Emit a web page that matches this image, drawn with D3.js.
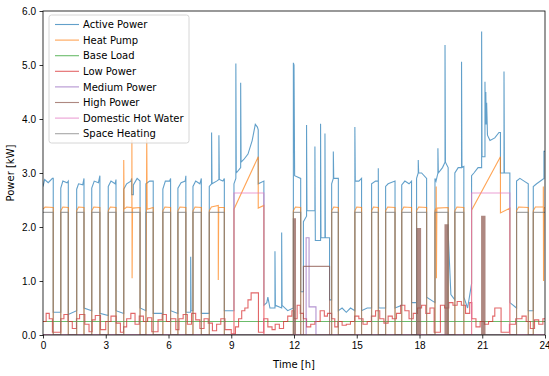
<!DOCTYPE html>
<html>
<head>
<meta charset="utf-8">
<script src="https://cdn.jsdelivr.net/npm/d3@7"></script>
<style>
  body { margin: 0; background: #fff; }
  svg { font-family: 'DejaVu Sans', sans-serif; }
</style>
</head>
<body>
<div id="graph"></div>
<script>
// hour ticks / power ticks
const xTicks = [0, 3, 6, 9, 12, 15, 18, 21, 24]
const yTicks = [0, 1, 2, 3, 4, 5, 6]

// [hour, kW] points, drawn with straight segments (repeated hour = vertical jump)
const activePower = [
  [0, 2.75], [0.08, 2.88], [0.25, 2.82], [0.45, 2.9], [0.49, 2.9], [0.49, 0.42],
  [0.85, 0.42], [0.85, 2.72], [0.95, 2.85], [1.15, 2.82], [1.21, 2.85], [1.21, 0.38],
  [1.61, 0.45], [1.61, 2.7], [1.7, 2.8], [1.9, 2.78], [1.96, 2.9], [1.96, 0.5],
  [2.33, 0.45], [2.33, 2.72], [2.45, 2.85], [2.65, 2.82], [2.72, 2.95], [2.72, 0.4],
  [3.12, 0.36], [3.12, 2.75], [3.25, 2.85], [3.45, 2.8], [3.49, 2.88], [3.49, 0.45],
  [3.86, 0.4], [3.86, 2.7], [4.0, 2.8], [4.2, 2.85], [4.24, 2.9], [4.24, 2.6], [4.32, 2.6], [4.32, 2.78], [4.5, 2.9], [4.64, 2.85], [4.64, 0.5],
  [4.92, 0.45], [4.92, 2.8], [5.1, 2.85], [5.27, 2.85], [5.27, 0.4],
  [5.73, 0.4], [5.73, 2.7], [5.85, 2.85], [6.05, 2.85], [6.1, 2.9], [6.1, 0.45],
  [6.45, 0.4], [6.45, 2.72], [6.6, 2.82], [6.8, 2.85], [6.83, 2.95], [6.83, 0.42],
  [7.06, 0.42], [7.06, 1.45], [7.08, 0.45],
  [7.17, 0.45], [7.17, 2.75], [7.3, 2.85], [7.5, 2.8], [7.57, 2.9], [7.57, 0.4],
  [7.95, 0.4], [7.95, 2.75], [8.06, 2.8], [8.06, 3.75], [8.08, 2.8], [8.3, 2.85], [8.41, 2.88], [8.41, 3.7], [8.43, 2.88], [8.6, 2.85], [8.67, 2.9], [8.67, 0.45],
  [9.13, 0.45], [9.13, 2.8], [9.22, 2.9], [9.22, 5.03], [9.24, 3.0], [9.45, 3.1], [9.45, 4.67], [9.47, 3.2], [9.6, 3.25], [9.8, 3.35], [10.0, 3.6], [10.15, 3.9], [10.25, 3.85], [10.29, 3.8], [10.29, 2.8], [10.56, 2.85], [10.56, 0.55],
  [10.7, 0.6], [10.75, 0.7], [10.85, 0.5], [11.09, 0.5], [11.09, 1.55], [11.11, 0.55], [11.41, 0.5], [11.41, 1.9], [11.43, 0.55], [11.7, 0.45], [11.97, 0.5],
  [11.97, 5.04], [12.0, 5.0], [12.03, 2.95], [12.32, 2.9], [12.32, 0.8], [12.45, 0.8], [12.45, 2.1], [12.6, 2.2], [12.6, 3.89], [12.62, 2.3], [13.0, 2.3], [13.0, 3.49], [13.02, 1.75], [13.27, 1.75], [13.27, 3.91], [13.29, 1.8], [13.48, 1.8], [13.48, 3.73], [13.5, 1.8], [13.7, 1.8], [13.7, 0.65],
  [13.8, 0.65], [13.8, 2.8], [13.88, 2.9], [13.88, 3.4], [13.9, 2.9], [14.12, 2.9], [14.12, 0.45],
  [14.3, 0.5], [14.5, 0.42], [14.7, 0.5], [14.91, 0.45],
  [14.91, 3.85], [14.93, 2.85], [15.1, 2.85], [15.23, 2.9], [15.23, 0.45],
  [15.5, 0.5], [15.71, 0.5], [15.71, 2.8], [15.9, 2.85], [16.03, 2.85], [16.03, 3.09], [16.05, 0.5],
  [16.38, 0.5], [16.38, 2.75], [16.5, 2.8], [16.83, 2.85], [16.83, 0.5],
  [17.15, 0.55], [17.15, 2.78], [17.3, 2.85], [17.5, 2.8], [17.62, 2.85], [17.62, 0.6],
  [17.86, 0.6], [17.86, 2.9], [17.94, 3.0], [17.94, 3.24], [17.96, 3.0], [18.1, 3.0], [18.34, 2.9], [18.34, 0.7],
  [18.74, 0.6], [18.74, 2.9], [18.79, 2.85], [18.88, 3.0], [18.88, 3.46], [18.9, 3.0], [19.1, 3.1], [19.22, 3.2], [19.22, 5.37], [19.24, 3.2], [19.37, 3.1], [19.37, 1.9], [19.5, 0.75], [19.69, 0.65],
  [19.69, 3.0], [19.85, 3.1], [20.01, 3.1], [20.01, 5.06], [20.03, 3.1], [20.12, 3.12], [20.12, 0.7],
  [20.3, 0.5], [20.49, 0.95],
  [20.49, 2.95], [20.6, 3.0], [20.8, 3.1], [20.97, 3.1], [20.97, 5.62], [20.99, 3.3], [21.13, 3.3], [21.13, 4.69], [21.15, 3.9], [21.17, 4.5], [21.19, 3.9], [21.21, 4.3], [21.25, 3.7], [21.37, 3.6], [21.6, 3.65], [21.8, 3.75], [21.87, 3.75], [21.87, 3.0], [22.04, 3.0], [22.04, 4.88], [22.06, 3.0], [22.32, 3.0], [22.32, 0.6],
  [22.64, 0.5], [22.64, 2.85], [22.8, 2.9], [23.0, 2.85], [23.2, 2.8], [23.2, 0.45],
  [23.44, 0.45], [23.44, 2.75], [23.6, 2.8], [23.95, 2.9], [23.95, 3.4], [24, 3.4]
]

const heatPump = [
  [0, 2.33], [0.1, 2.37], [0.49, 2.36], [0.49, 0],
  [0.85, 0], [0.85, 2.3], [0.95, 2.37], [1.21, 2.36], [1.21, 0],
  [1.61, 0], [1.61, 2.3], [1.7, 2.37], [1.96, 2.36], [1.96, 0],
  [2.33, 0], [2.33, 2.3], [2.43, 2.37], [2.72, 2.36], [2.72, 0],
  [3.12, 0], [3.12, 2.3], [3.22, 2.37], [3.49, 2.36], [3.49, 0],
  [3.86, 0], [3.86, 3.24], [3.88, 2.33], [4.0, 2.37], [4.25, 2.36], [4.25, 3.61], [4.26, 1.05], [4.28, 2.35], [4.64, 2.36], [4.64, 0],
  [4.92, 0], [4.96, 3.65], [4.98, 2.33], [5.27, 2.36], [5.27, 0],
  [5.73, 0], [5.73, 2.3], [5.83, 2.37], [6.1, 2.36], [6.1, 0],
  [6.45, 0], [6.45, 2.3], [6.55, 2.37], [6.83, 2.36], [6.83, 0],
  [7.17, 0], [7.17, 2.3], [7.27, 2.37], [7.57, 2.36], [7.57, 0],
  [7.95, 0], [7.95, 2.3], [8.05, 2.37], [8.38, 2.4], [8.38, 1.02], [8.4, 2.36], [8.67, 2.36], [8.67, 0],
  [9.13, 0], [9.13, 2.33], [10.29, 3.3], [10.29, 2.35], [10.56, 2.4], [10.56, 0],
  [11.97, 0], [11.97, 2.3], [12.07, 2.37], [12.32, 2.36], [12.32, 0],
  [13.8, 0], [13.8, 2.3], [13.9, 2.37], [14.12, 2.36], [14.12, 0],
  [14.91, 0], [14.91, 2.3], [15.0, 2.37], [15.23, 2.36], [15.23, 0],
  [15.71, 0], [15.71, 2.3], [15.8, 2.37], [16.03, 2.36], [16.03, 0],
  [16.38, 0], [16.38, 2.3], [16.48, 2.37], [16.83, 2.36], [16.83, 0],
  [17.15, 0], [17.15, 2.3], [17.25, 2.37], [17.62, 2.36], [17.62, 0],
  [17.86, 0], [17.86, 2.3], [17.96, 2.37], [18.34, 2.36], [18.34, 0],
  [18.74, 0], [18.74, 2.3], [18.8, 2.36], [18.8, 2.75], [18.81, 1.05], [18.83, 2.35], [19.37, 2.36], [19.37, 0],
  [19.69, 0], [19.69, 2.3], [19.79, 2.37], [20.12, 2.36], [20.12, 0],
  [20.49, 0], [20.49, 2.31], [21.87, 3.3], [21.87, 2.26], [22.32, 2.35], [22.32, 0],
  [22.64, 0], [22.64, 2.3], [22.74, 2.37], [23.2, 2.36], [23.2, 0],
  [23.44, 0], [23.44, 2.3], [23.54, 2.37], [23.92, 2.37], [23.92, 2.75], [23.93, 1.0], [23.95, 2.35], [24, 2.36]
]

// step series: [hour, kW] held until next hour
const baseLoad = [[0, 0.25], [24, 0.25]]

const lowPower = [
  [0, 0.25], [0.15, 0.4], [0.3, 0.3], [0.45, 0.05], [0.85, 0.3], [1.0, 0.38], [1.2, 0.25], [1.4, 0.12],
  [1.6, 0.3], [1.75, 0.38], [2.0, 0.2], [2.2, 0.06], [2.35, 0.28], [2.5, 0.36], [2.75, 0.1], [3.0, 0.25],
  [3.25, 0.35], [3.5, 0.22], [3.7, 0.05], [3.85, 0.15], [4.0, 0.3], [4.2, 0.4], [4.4, 0.2], [4.6, 0.35],
  [4.8, 0.25], [5.0, 0.32], [5.2, 0.06], [5.5, 0.28], [5.7, 0.38], [5.9, 0.25], [6.1, 0.3], [6.35, 0.1],
  [6.5, 0.3], [6.7, 0.38], [6.9, 0.2], [7.1, 0.4], [7.3, 0.28], [7.5, 0.12], [7.7, 0.3], [7.9, 0.22],
  [8.1, 0.08], [8.3, 0.2], [8.5, 0.3], [8.7, 0.1], [9.0, 0.02], [9.2, 0.15], [9.35, 0.3], [9.5, 0.45],
  [9.65, 0.5], [9.8, 0.65], [9.95, 0.78], [10.3, 0.05], [10.55, 0.3], [10.75, 0.15], [10.95, 0.1], [11.1, 0.2],
  [11.3, 0.12], [11.5, 0.25], [11.7, 0.35], [11.9, 0.45], [12.0, 0.3], [12.15, 0.55], [12.3, 0.4], [12.45, 0.3],
  [12.6, 0.15], [12.8, 0.2], [13.0, 0.25], [13.25, 0.45], [13.45, 0.35], [13.6, 0.4], [13.8, 0.3], [13.95, 0.15],
  [14.1, 0.25], [14.3, 0.18], [14.5, 0.2], [14.7, 0.25], [14.9, 0.35], [15.1, 0.3], [15.3, 0.2], [15.5, 0.25],
  [15.7, 0.35], [15.9, 0.45], [16.1, 0.3], [16.3, 0.22], [16.5, 0.35], [16.7, 0.3], [16.9, 0.4], [17.1, 0.55],
  [17.3, 0.45], [17.5, 0.3], [17.7, 0.4], [17.9, 0.5], [18.1, 0.55], [18.3, 0.4], [18.5, 0.5], [18.7, 0.05],
  [19.0, 0.55], [19.2, 0.5], [19.4, 0.6], [19.6, 0.55], [19.8, 0.62], [20.0, 0.55], [20.2, 0.4], [20.4, 0.6],
  [20.5, 0.3], [20.7, 0.15], [20.9, 0.25], [21.1, 0.2], [21.3, 0.25], [21.5, 0.35], [21.6, 0.5], [21.9, 0.05],
  [22.3, 0.2], [22.6, 0.3], [22.9, 0.35], [23.1, 0.25], [23.3, 0.12], [23.5, 0.28], [23.7, 0.2], [23.9, 0.3], [24, 0.3]
]

const mediumPower = [[0, 0], [12.58, 1.8], [12.72, 0.52], [13.05, 0], [24, 0]]

// short bursts switch on and off quickly, so they read as solid bars
const highPower = [
  [0, 0], [11.97, 2.15], [11.99, 0], [12.01, 2.15], [12.03, 0], [12.05, 2.15], [12.07, 0],
  [12.45, 1.27], [13.7, 0],
  [17.86, 1.97], [17.88, 0], [17.9, 1.97], [17.93, 0], [17.95, 1.97], [17.98, 0], [18.0, 1.97], [18.05, 0],
  [19.22, 2.04], [19.24, 0], [19.26, 2.04], [19.29, 0], [19.31, 2.04], [19.34, 0], [19.35, 2.04], [19.37, 0],
  [20.97, 2.2], [20.99, 0], [21.01, 2.2], [21.04, 0], [21.06, 2.2], [21.09, 0], [21.1, 2.2], [21.13, 0], [24, 0]
]

const hotWater = [[0, 0], [9.13, 2.63], [10.56, 0], [20.49, 2.63], [22.32, 0], [24, 0]]

const spaceHeating = [
  [0, 2.27], [0.49, 0], [0.85, 2.27], [1.21, 0], [1.61, 2.27], [1.96, 0], [2.33, 2.27], [2.72, 0],
  [3.12, 2.27], [3.49, 0], [3.86, 2.27], [4.64, 0], [4.92, 2.27], [5.27, 0], [5.73, 2.27], [6.1, 0],
  [6.45, 2.27], [6.83, 0], [7.17, 2.27], [7.57, 0], [7.95, 2.27], [8.67, 0], [11.97, 2.27], [12.32, 0],
  [13.8, 2.27], [14.12, 0], [14.91, 2.27], [15.23, 0], [15.71, 2.27], [16.03, 0], [16.38, 2.27], [16.83, 0],
  [17.15, 2.27], [17.62, 0], [17.86, 2.27], [18.34, 0], [18.74, 2.27], [19.37, 0], [19.69, 2.27], [20.12, 0],
  [22.64, 2.27], [23.2, 0], [23.44, 2.27], [24, 2.27]
]

const series = [
  { name: 'Active Power', data: activePower, color: '#1f77b4', step: false },
  { name: 'Heat Pump', data: heatPump, color: '#ff7f0e', step: false },
  { name: 'Base Load', data: baseLoad, color: '#2ca02c', step: true },
  { name: 'Low Power', data: lowPower, color: '#d62728', step: true },
  { name: 'Medium Power', data: mediumPower, color: '#9467bd', step: true },
  { name: 'High Power', data: highPower, color: '#8c564b', step: true },
  { name: 'Domestic Hot Water', data: hotWater, color: '#e377c2', step: true },
  { name: 'Space Heating', data: spaceHeating, color: '#7f7f7f', step: true }
]

const W = 549, H = 376
const margin = { top: 11, right: 4, bottom: 41, left: 43 }
const width = W - margin.left - margin.right
const height = H - margin.top - margin.bottom

const svg = d3.select('#graph').append('svg')
  .attr('width', W)
  .attr('height', H)
const g = svg.append('g')
  .attr('transform', `translate(${margin.left}, ${margin.top})`)

const x = d3.scaleLinear().domain([0, 24]).range([0, width])
const y = d3.scaleLinear().domain([0, 6]).range([height, 0])

g.append('defs').append('clipPath').attr('id', 'clip')
  .append('rect').attr('width', width).attr('height', height)

const plot = g.append('g').attr('clip-path', 'url(#clip)')
series.forEach(s => {
  const line = d3.line()
    .x(d => x(d[0]))
    .y(d => y(d[1]))
    .curve(s.step ? d3.curveStepAfter : d3.curveLinear)
  plot.append('path')
    .datum(s.data)
    .attr('fill', 'none')
    .attr('stroke', s.color)
    .attr('stroke-width', 1.1)
    .attr('stroke-opacity', 0.7)
    .attr('d', line)
})

const xAxis = g.append('g')
  .attr('transform', `translate(0, ${height})`)
  .call(d3.axisBottom(x).tickValues(xTicks).tickSize(3.5).tickPadding(3.5))
const yAxis = g.append('g')
  .call(d3.axisLeft(y).tickValues(yTicks).tickSize(3.5).tickPadding(3.5))
;[xAxis, yAxis].forEach(a => {
  a.select('.domain').remove()
  a.selectAll('text').attr('font-size', 10).attr('fill', '#000')
  a.selectAll('line').attr('stroke', '#000').attr('stroke-width', 0.8)
})
// the last hour label sits at the window edge
xAxis.selectAll('text').filter(d => d === 24).attr('text-anchor', 'end').attr('dx', 5)

g.append('rect')
  .attr('width', width).attr('height', height)
  .attr('fill', 'none').attr('stroke', '#000').attr('stroke-width', 0.8)

g.append('text')
  .attr('x', width / 2).attr('y', height + 33)
  .attr('text-anchor', 'middle').attr('font-size', 10)
  .text('Time [h]')
g.append('text')
  .attr('transform', `translate(-29, ${height / 2}) rotate(-90)`)
  .attr('text-anchor', 'middle').attr('font-size', 10)
  .text('Power [kW]')

// legend
const legend = g.append('g').attr('transform', 'translate(6, 4)')
legend.append('rect')
  .attr('width', 140).attr('height', 128).attr('rx', 2.5)
  .attr('fill', '#fff').attr('fill-opacity', 0.8)
  .attr('stroke', '#ccc').attr('stroke-width', 0.8)
series.forEach((s, i) => {
  const ly = 9.5 + i * 15.6
  legend.append('line')
    .attr('x1', 6).attr('x2', 30).attr('y1', ly).attr('y2', ly)
    .attr('stroke', s.color).attr('stroke-width', 1.1).attr('stroke-opacity', 0.7)
  legend.append('text')
    .attr('x', 34).attr('y', ly + 3.6).attr('font-size', 10)
    .text(s.name)
})
</script>
</body>
</html>
